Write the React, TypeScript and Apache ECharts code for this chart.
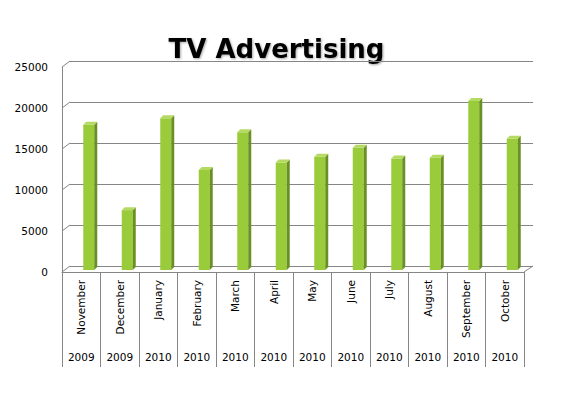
import React, { useEffect, useRef } from "react";
import * as echarts from "echarts";

const months = ["November", "December", "January", "February", "March", "April", "May", "June", "July", "August", "September", "October"];
const years = ["2009", "2009", "2010", "2010", "2010", "2010", "2010", "2010", "2010", "2010", "2010", "2010"];
const values = [17700, 7300, 18500, 12200, 16800, 13100, 13800, 14900, 13600, 13700, 20600, 16000];
const yTicks = [0, 5000, 10000, 15000, 20000, 25000];

const GRID = "#868686";
const FONT = "DejaVu Sans";

export default function App() {
  const ref = useRef<HTMLDivElement>(null);
  useEffect(() => {
    const chart = echarts.init(ref.current!, null, { renderer: "svg" });
    const DX = 8, DY = -6;
    chart.setOption({
      animation: false,
      backgroundColor: "#fff",
      graphic: [
        {
          type: "text",
          x: 276.5,
          y: 49,
          style: {
            text: "TV Advertising",
            align: "center",
            verticalAlign: "middle",
            font: `bold 26px "${FONT}"`,
            fill: "#000",
            textShadowColor: "rgba(0,0,0,0.35)",
            textShadowBlur: 2,
            textShadowOffsetX: 1,
            textShadowOffsetY: 1,
          },
        },
      ],
      grid: [
        { left: 70, top: 61, width: 463, height: 205 },
        { left: 62, top: 67, width: 462, height: 205 },
      ],
      xAxis: [
        { gridIndex: 0, type: "category", data: months, show: false },
        {
          gridIndex: 1,
          type: "category",
          data: months,
          axisLine: { show: true, lineStyle: { color: GRID, width: 1 } },
          axisTick: { show: true, length: 95, lineStyle: { color: GRID } },
          axisLabel: { rotate: 90, margin: 8, fontSize: 10.5, color: "#000", fontFamily: FONT },
        },
        {
          gridIndex: 1,
          type: "category",
          data: years,
          position: "bottom",
          axisLine: { show: false },
          axisTick: { show: false },
          axisLabel: { margin: 79, fontSize: 10.5, color: "#000", fontFamily: FONT },
        },
      ],
      yAxis: [
        {
          gridIndex: 0,
          type: "value",
          min: 0,
          max: 25000,
          interval: 5000,
          axisLine: { show: false },
          axisTick: { show: false },
          axisLabel: { show: false },
          splitLine: { show: true, lineStyle: { color: GRID, width: 1 } },
        },
        {
          gridIndex: 1,
          type: "value",
          min: 0,
          max: 25000,
          interval: 5000,
          axisLine: { show: true, lineStyle: { color: GRID, width: 1 } },
          axisTick: { show: false },
          splitLine: { show: false },
          axisLabel: {
            margin: 14,
            fontSize: 10.5,
            color: "#000",
            fontFamily: FONT,
            formatter: (v: number) => String(v),
          },
        },
      ],
      series: [
        {
          type: "custom",
          xAxisIndex: 1,
          yAxisIndex: 1,
          data: yTicks.map((v) => [0, v]),
          silent: true,
          renderItem: (params: any, api: any) => {
            const cs = params.coordSys;
            const v = api.value(1);
            const y = api.coord([0, v])[1];
            const children: any[] = [
              {
                type: "line",
                shape: { x1: cs.x, y1: y, x2: cs.x + DX, y2: y + DY },
                style: { stroke: GRID, lineWidth: 1 },
              },
            ];
            if (v === 0) {
              children.push({
                type: "line",
                shape: { x1: cs.x + cs.width, y1: y, x2: cs.x + cs.width + DX + 1, y2: y + DY },
                style: { stroke: GRID, lineWidth: 1 },
              });
            }
            return { type: "group", children };
          },
        },
        {
          type: "custom",
          xAxisIndex: 1,
          yAxisIndex: 1,
          data: values.map((v, i) => [i, v]),
          silent: true,
          renderItem: (params: any, api: any) => {
            const i = api.value(0);
            const v = api.value(1);
            const p = api.coord([i, v]);
            const b = api.coord([i, 0]);
            const cx = p[0] + 7.5;
            const top = p[1] - 2;
            const bot = b[1] - 2;
            const hw = 5.5;
            const d = 3;
            return {
              type: "group",
              children: [
                {
                  type: "rect",
                  shape: { x: cx - hw, y: top, width: hw * 2, height: bot - top },
                  style: { fill: "#9ACB3A" },
                },
                {
                  type: "polygon",
                  shape: { points: [[cx + hw, top], [cx + hw + d, top - d], [cx + hw + d, bot - d], [cx + hw, bot]] },
                  style: { fill: "#6A9023" },
                },
                {
                  type: "polygon",
                  shape: { points: [[cx - hw, top], [cx + hw, top], [cx + hw + d, top - d], [cx - hw + d, top - d]] },
                  style: { fill: "#B4DA62" },
                },
              ],
            };
          },
        },
      ],
    });
    return () => chart.dispose();
  }, []);
  return <div ref={ref} style={{ width: 568, height: 398, position: "absolute", left: 0, top: 0 }} />;
}
